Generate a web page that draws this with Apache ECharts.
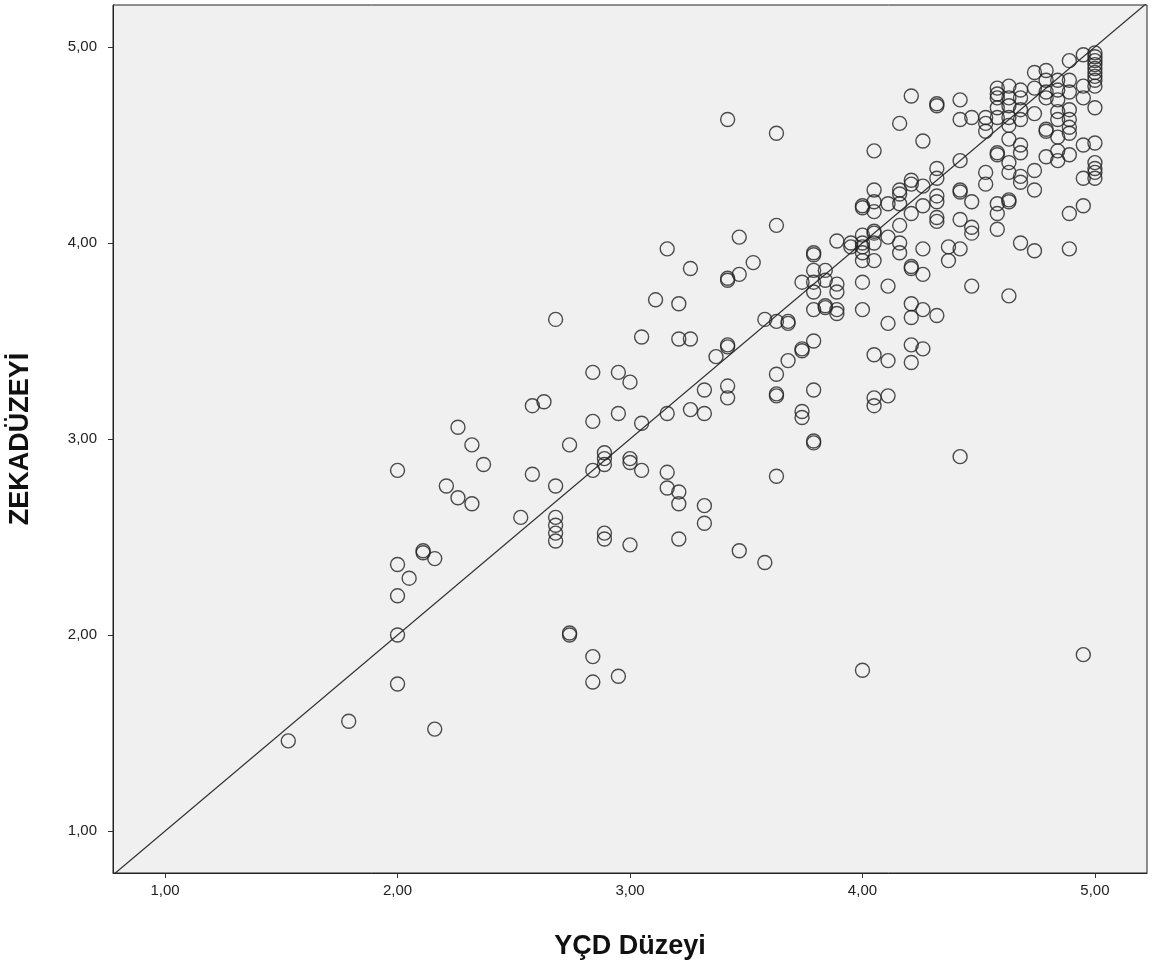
<!DOCTYPE html>
<html>
<head>
<meta charset="utf-8">
<script src="https://cdn.jsdelivr.net/npm/echarts@6/dist/echarts.min.js"></script>
<style>
  html, body { margin: 0; padding: 0; background: #fff; }
  #main { width: 1155px; height: 976px; }
</style>
</head>
<body>
<div id="main"></div>
<script>
var myChart = echarts.init(document.getElementById('main'));

// axis ticks
var tickValues = [1, 2, 3, 4, 5];
var xRange = [0.776, 5.224];
var yRange = [0.786, 5.214];
var diagonal = [[0.78, 0.78], [5.22, 5.22]];

// YÇD Düzeyi vs ZEKADÜZEYİ
var lowGroup = [
    [1.53, 1.46], [1.79, 1.56], [2.16, 1.52], [2.00, 1.75], [2.00, 2.00], [2.00, 2.20],
    [2.05, 2.29], [2.00, 2.36], [2.11, 2.42], [2.11, 2.43], [2.16, 2.39], [2.00, 2.84],
    [2.21, 2.76], [2.26, 2.70], [2.32, 2.67], [2.26, 3.06], [2.32, 2.97], [2.37, 2.87]
];
var midLowGroup = [
    [2.53, 2.60], [2.58, 2.82], [2.58, 3.17], [2.63, 3.19], [2.68, 3.61], [2.68, 2.76],
    [2.68, 2.60], [2.68, 2.56], [2.68, 2.52], [2.68, 2.48], [2.74, 2.97], [2.74, 2.00],
    [2.74, 2.01], [2.84, 1.89], [2.84, 1.76], [2.95, 1.79], [2.84, 3.34], [2.84, 3.09],
    [2.84, 2.84], [2.89, 2.93], [2.89, 2.90], [2.89, 2.87], [2.89, 2.52], [2.89, 2.49],
    [2.95, 3.34], [2.95, 3.13], [3.00, 3.29], [3.00, 2.90], [3.00, 2.88], [3.00, 2.46]
];
var midGroup = [
    [3.05, 3.52], [3.05, 3.08], [3.05, 2.84], [3.11, 3.71], [3.16, 3.97], [3.16, 3.13],
    [3.16, 2.83], [3.16, 2.75], [3.21, 3.69], [3.21, 3.51], [3.21, 2.73], [3.21, 2.67],
    [3.21, 2.49], [3.26, 3.87], [3.26, 3.51], [3.26, 3.15], [3.32, 3.25], [3.32, 3.13],
    [3.32, 2.66], [3.32, 2.57], [3.37, 3.42], [3.42, 4.63], [3.42, 3.82], [3.42, 3.81],
    [3.42, 3.48], [3.42, 3.47], [3.42, 3.27], [3.42, 3.21], [3.47, 4.03], [3.47, 3.84],
    [3.47, 2.43], [3.53, 3.90], [3.58, 3.61], [3.58, 2.37], [3.63, 4.56], [3.63, 4.09],
    [3.63, 3.60], [3.63, 3.33], [3.63, 3.22], [3.63, 3.23], [3.63, 2.81], [3.68, 3.59],
    [3.68, 3.60], [3.68, 3.40]
];
var upperMidGroup = [
    [3.74, 3.80], [3.74, 3.45], [3.74, 3.46], [3.74, 3.14], [3.74, 3.11], [3.79, 3.95],
    [3.79, 3.94], [3.79, 3.86], [3.79, 3.80], [3.79, 3.75], [3.79, 3.66], [3.79, 3.50],
    [3.79, 3.25], [3.79, 2.98], [3.79, 2.99], [3.84, 3.86], [3.84, 3.81], [3.84, 3.67],
    [3.84, 3.68], [3.89, 4.01], [3.89, 3.79], [3.89, 3.75], [3.89, 3.66], [3.89, 3.64],
    [3.95, 4.00], [3.95, 3.98],
    [4.00, 4.18], [4.00, 4.19], [4.00, 4.04], [4.00, 4.00], [4.00, 3.98], [4.00, 3.95],
    [4.00, 3.91], [4.00, 3.80], [4.00, 3.66], [4.00, 1.82],
    [4.05, 4.47], [4.05, 4.27], [4.05, 4.21], [4.05, 4.16], [4.05, 4.06], [4.05, 4.05],
    [4.05, 4.00], [4.05, 3.91], [4.05, 3.43], [4.05, 3.21], [4.05, 3.17],
    [4.11, 4.20], [4.11, 4.03], [4.11, 3.78], [4.11, 3.59], [4.11, 3.40], [4.11, 3.22],
    [4.16, 4.61], [4.16, 4.27], [4.16, 4.25], [4.16, 4.20], [4.16, 4.09], [4.16, 4.00],
    [4.16, 3.95]
];
var highGroup = [
    [4.21, 4.75], [4.21, 4.30], [4.21, 4.15], [4.21, 3.88], [4.21, 3.87], [4.21, 3.69],
    [4.21, 3.62], [4.21, 3.48], [4.21, 3.39], [4.21, 4.32],
    [4.26, 4.52], [4.26, 4.29], [4.26, 4.19], [4.26, 3.97], [4.26, 3.84], [4.26, 3.66],
    [4.26, 3.46],
    [4.32, 4.70], [4.32, 4.71], [4.32, 4.38], [4.32, 4.33], [4.32, 4.24], [4.32, 4.21],
    [4.32, 4.13], [4.32, 4.11], [4.32, 3.63],
    [4.37, 3.98], [4.37, 3.91],
    [4.42, 4.73], [4.42, 4.63], [4.42, 4.42], [4.42, 4.27], [4.42, 4.26], [4.42, 4.12],
    [4.42, 3.97], [4.42, 2.91],
    [4.47, 4.64], [4.47, 4.21], [4.47, 4.08], [4.47, 4.05], [4.47, 3.78],
    [4.53, 4.64], [4.53, 4.61], [4.53, 4.57], [4.53, 4.36], [4.53, 4.30],
    [4.58, 4.79], [4.58, 4.76], [4.58, 4.74], [4.58, 4.69], [4.58, 4.64], [4.58, 4.46],
    [4.58, 4.45], [4.58, 4.20], [4.58, 4.15], [4.58, 4.07]
];
var topGroup = [
    [4.63, 4.80], [4.63, 4.74], [4.63, 4.70], [4.63, 4.64], [4.63, 4.60], [4.63, 4.53],
    [4.63, 4.41], [4.63, 4.36], [4.63, 4.22], [4.63, 4.21], [4.63, 3.73],
    [4.68, 4.78], [4.68, 4.74], [4.68, 4.68], [4.68, 4.63], [4.68, 4.50], [4.68, 4.46],
    [4.68, 4.34], [4.68, 4.31], [4.68, 4.00],
    [4.74, 4.87], [4.74, 4.79], [4.74, 4.66], [4.74, 4.37], [4.74, 4.27], [4.74, 3.96],
    [4.79, 4.88], [4.79, 4.83], [4.79, 4.77], [4.79, 4.74], [4.79, 4.58], [4.79, 4.57],
    [4.79, 4.44],
    [4.84, 4.83], [4.84, 4.78], [4.84, 4.73], [4.84, 4.67], [4.84, 4.63], [4.84, 4.54],
    [4.84, 4.47], [4.84, 4.42],
    [4.89, 4.93], [4.89, 4.83], [4.89, 4.77], [4.89, 4.68], [4.89, 4.63], [4.89, 4.59],
    [4.89, 4.56], [4.89, 4.45], [4.89, 4.15], [4.89, 3.97],
    [4.95, 4.96], [4.95, 4.80], [4.95, 4.74], [4.95, 4.50], [4.95, 4.33], [4.95, 4.19],
    [4.95, 1.90],
    [5.00, 4.97], [5.00, 4.95], [5.00, 4.93], [5.00, 4.91], [5.00, 4.89], [5.00, 4.87],
    [5.00, 4.85], [5.00, 4.83], [5.00, 4.80], [5.00, 4.69], [5.00, 4.51], [5.00, 4.41],
    [5.00, 4.38], [5.00, 4.36], [5.00, 4.33]
];

var points = [].concat(lowGroup, midLowGroup, midGroup, upperMidGroup, highGroup, topGroup);

function commaLabel(v) {
    return v.toFixed(2).replace('.', ',');
}

var axisText = { color: '#222', fontSize: 15, fontFamily: 'Liberation Sans, Arial, sans-serif' };
var nameText = { color: '#111', fontSize: 27, fontWeight: 'bold', fontFamily: 'Liberation Sans, Arial, sans-serif' };

var option = {
    backgroundColor: '#fff',
    animation: false,
    grid: {
        left: 113, right: 8, top: 5, bottom: 103,
        outerBoundsMode: 'none',
        show: true,
        backgroundColor: '#f0f0f0',
        borderColor: '#222',
        borderWidth: 1
    },
    xAxis: {
        type: 'value',
        min: xRange[0], max: xRange[1],
        name: 'YÇD Düzeyi',
        nameLocation: 'middle',
        nameGap: 60,
        nameTextStyle: nameText,
        axisLine: { show: true, lineStyle: { color: '#222', width: 1 } },
        axisTick: { show: true, customValues: tickValues, length: 5, lineStyle: { color: '#333' } },
        axisLabel: Object.assign({ customValues: tickValues, formatter: commaLabel, margin: 10 }, axisText),
        splitLine: { show: false }
    },
    yAxis: {
        type: 'value',
        min: yRange[0], max: yRange[1],
        name: 'ZEKADÜZEYİ',
        nameLocation: 'middle',
        nameGap: 79,
        nameRotate: 90,
        nameTextStyle: nameText,
        axisLine: { show: true, lineStyle: { color: '#222', width: 1 } },
        axisTick: { show: true, customValues: tickValues, length: 5, lineStyle: { color: '#333' } },
        axisLabel: Object.assign({ customValues: tickValues, formatter: commaLabel, margin: 16 }, axisText),
        splitLine: { show: false }
    },
    series: [
        {
            type: 'line',
            data: diagonal,
            symbol: 'none',
            silent: true,
            lineStyle: { color: '#333', width: 1.3 },
            z: 1
        },
        {
            type: 'scatter',
            data: points,
            symbol: 'circle',
            symbolSize: 14,
            silent: true,
            itemStyle: { color: 'rgba(0,0,0,0)', borderColor: '#222', borderWidth: 1.4 },
            z: 2
        }
    ]
};

myChart.setOption(option);
</script>
</body>
</html>
